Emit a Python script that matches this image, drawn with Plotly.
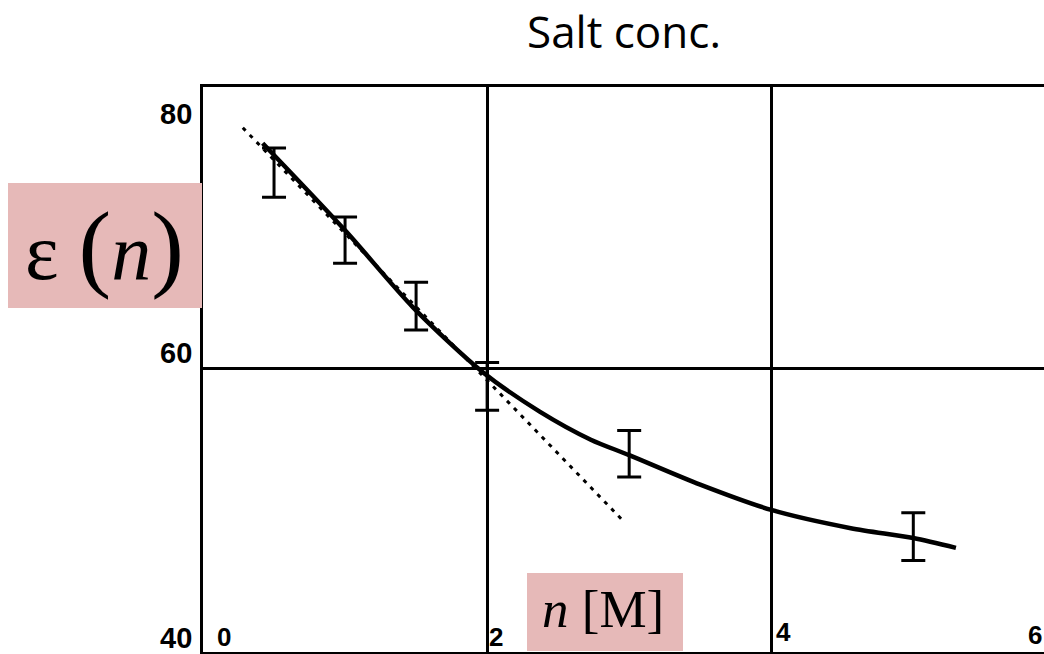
import plotly.graph_objects as go

# Measured dielectric constant versus salt concentration
conc = [0.5, 1.0, 1.5, 2.0, 3.0, 5.0]
eps = [73.9, 69.1, 64.4, 58.7, 53.9, 48.0]
eps_err = [1.75, 1.65, 1.7, 1.7, 1.65, 1.7]

# Smooth fitted curve through the data
fit_x = [0.42, 1.0, 1.48, 1.97, 2.37, 2.73, 3.0, 3.5, 4.0, 4.56, 5.0, 5.3]
fit_y = [76.0, 69.8, 64.3, 59.7, 56.9, 54.9, 53.8, 51.7, 49.9, 48.6, 47.9, 47.2]

# Linear (low-concentration) extrapolation
lin_x = [0.28, 2.95]
lin_y = [77.1, 49.2]

x_ticks = [0, 2, 4, 6]
x_tick_text = ["0", "2", "4", "6"]
y_ticks = [80, 60, 40]
y_tick_text = ["80", "60", "40"]

W, H = 1044, 654
ML, MT, MB, MR = 203, 87, 2, 0
PW, PH = W - ML - MR, H - MT - MB
X_RANGE = [0, PW / 142.06]
Y_RANGE = [80 - PH / 14.05, 80]

fig = go.Figure()

fig.add_trace(go.Scatter(
    x=lin_x, y=lin_y, mode="lines",
    line=dict(color="black", width=3, dash="4px,6px"),
    hoverinfo="skip", showlegend=False,
))
fig.add_trace(go.Scatter(
    x=fit_x, y=fit_y, mode="lines",
    line=dict(color="black", width=4.5, shape="spline", smoothing=0.8),
    hoverinfo="skip", showlegend=False,
))
fig.add_trace(go.Scatter(
    x=conc, y=eps, mode="markers",
    marker=dict(size=1, color="rgba(0,0,0,0)"),
    error_y=dict(type="data", array=eps_err, color="black", thickness=3, width=12),
    showlegend=False,
))

# tick labels, hand-lettered positions (shifts in pixels, positive = up)
y_label_shift = [-27, 15, 11]
for v, t, dy in zip(y_ticks, y_tick_text, y_label_shift):
    fig.add_annotation(
        x=0, y=v, xref="x", yref="y", text=t, showarrow=False,
        xanchor="center", yanchor="middle", xshift=-27, yshift=dy,
        font=dict(family="Liberation Sans", size=29, color="black", weight="bold"),
    )

def px_x(p):
    return (p - ML) / PW

def px_y(p):
    return (H - MB - p) / PH

def x_to_paper(v):
    return (v - X_RANGE[0]) / (X_RANGE[1] - X_RANGE[0])

x_label_shift = [21, 9, 12, -20]
x_label_py = [637, 637, 632, 635]
for v, t, dx, py in zip(x_ticks, x_tick_text, x_label_shift, x_label_py):
    fig.add_annotation(
        x=x_to_paper(v), y=px_y(py), xref="paper", yref="paper", text=t,
        showarrow=False, xanchor="center", yanchor="middle", xshift=dx,
        font=dict(family="Liberation Sans", size=26, color="black", weight="bold"),
    )

pink = "#e6b9b8"
# axis-name boxes
fig.add_shape(type="rect", xref="paper", yref="paper",
              x0=px_x(8), x1=px_x(202), y0=px_y(308), y1=px_y(183),
              fillcolor=pink, line_width=0, layer="above")
fig.add_shape(type="rect", xref="paper", yref="paper",
              x0=px_x(527), x1=px_x(683), y0=px_y(651), y1=px_y(573),
              fillcolor=pink, line_width=0, layer="above")

fig.add_annotation(
    x=px_x(104), y=px_y(246), xref="paper", yref="paper", showarrow=False,
    xanchor="center", yanchor="middle",
    text="ε <span style='font-size:98px'>(</span><i>n</i><span style='font-size:98px'>)</span>",
    font=dict(family="Liberation Serif", size=80, color="black"),
)
fig.add_annotation(
    x=px_x(603), y=px_y(609), xref="paper", yref="paper", showarrow=False,
    xanchor="center", yanchor="middle",
    text="<i>n</i> [M]",
    font=dict(family="Liberation Serif", size=53, color="black"),
)
fig.add_annotation(
    x=px_x(624), y=px_y(31), xref="paper", yref="paper", showarrow=False,
    xanchor="center", yanchor="middle",
    text="Salt conc.",
    font=dict(family="Open Sans", size=44, color="black"),
)

fig.update_xaxes(
    range=X_RANGE, showgrid=True, gridcolor="black", gridwidth=3,
    tickvals=[2, 4], showticklabels=False, ticks="", zeroline=False,
    showline=True, linecolor="black", linewidth=3, mirror=True,
)
fig.update_yaxes(
    range=Y_RANGE, showgrid=True, gridcolor="black", gridwidth=3,
    tickvals=[60], showticklabels=False, ticks="", zeroline=False,
    showline=True, linecolor="black", linewidth=3, mirror=False,
)
fig.update_layout(
    width=W, height=H,
    margin=dict(l=ML, r=MR, t=MT, b=MB),
    paper_bgcolor="white", plot_bgcolor="white",
    showlegend=False,
)

fig.write_html("out.html")
